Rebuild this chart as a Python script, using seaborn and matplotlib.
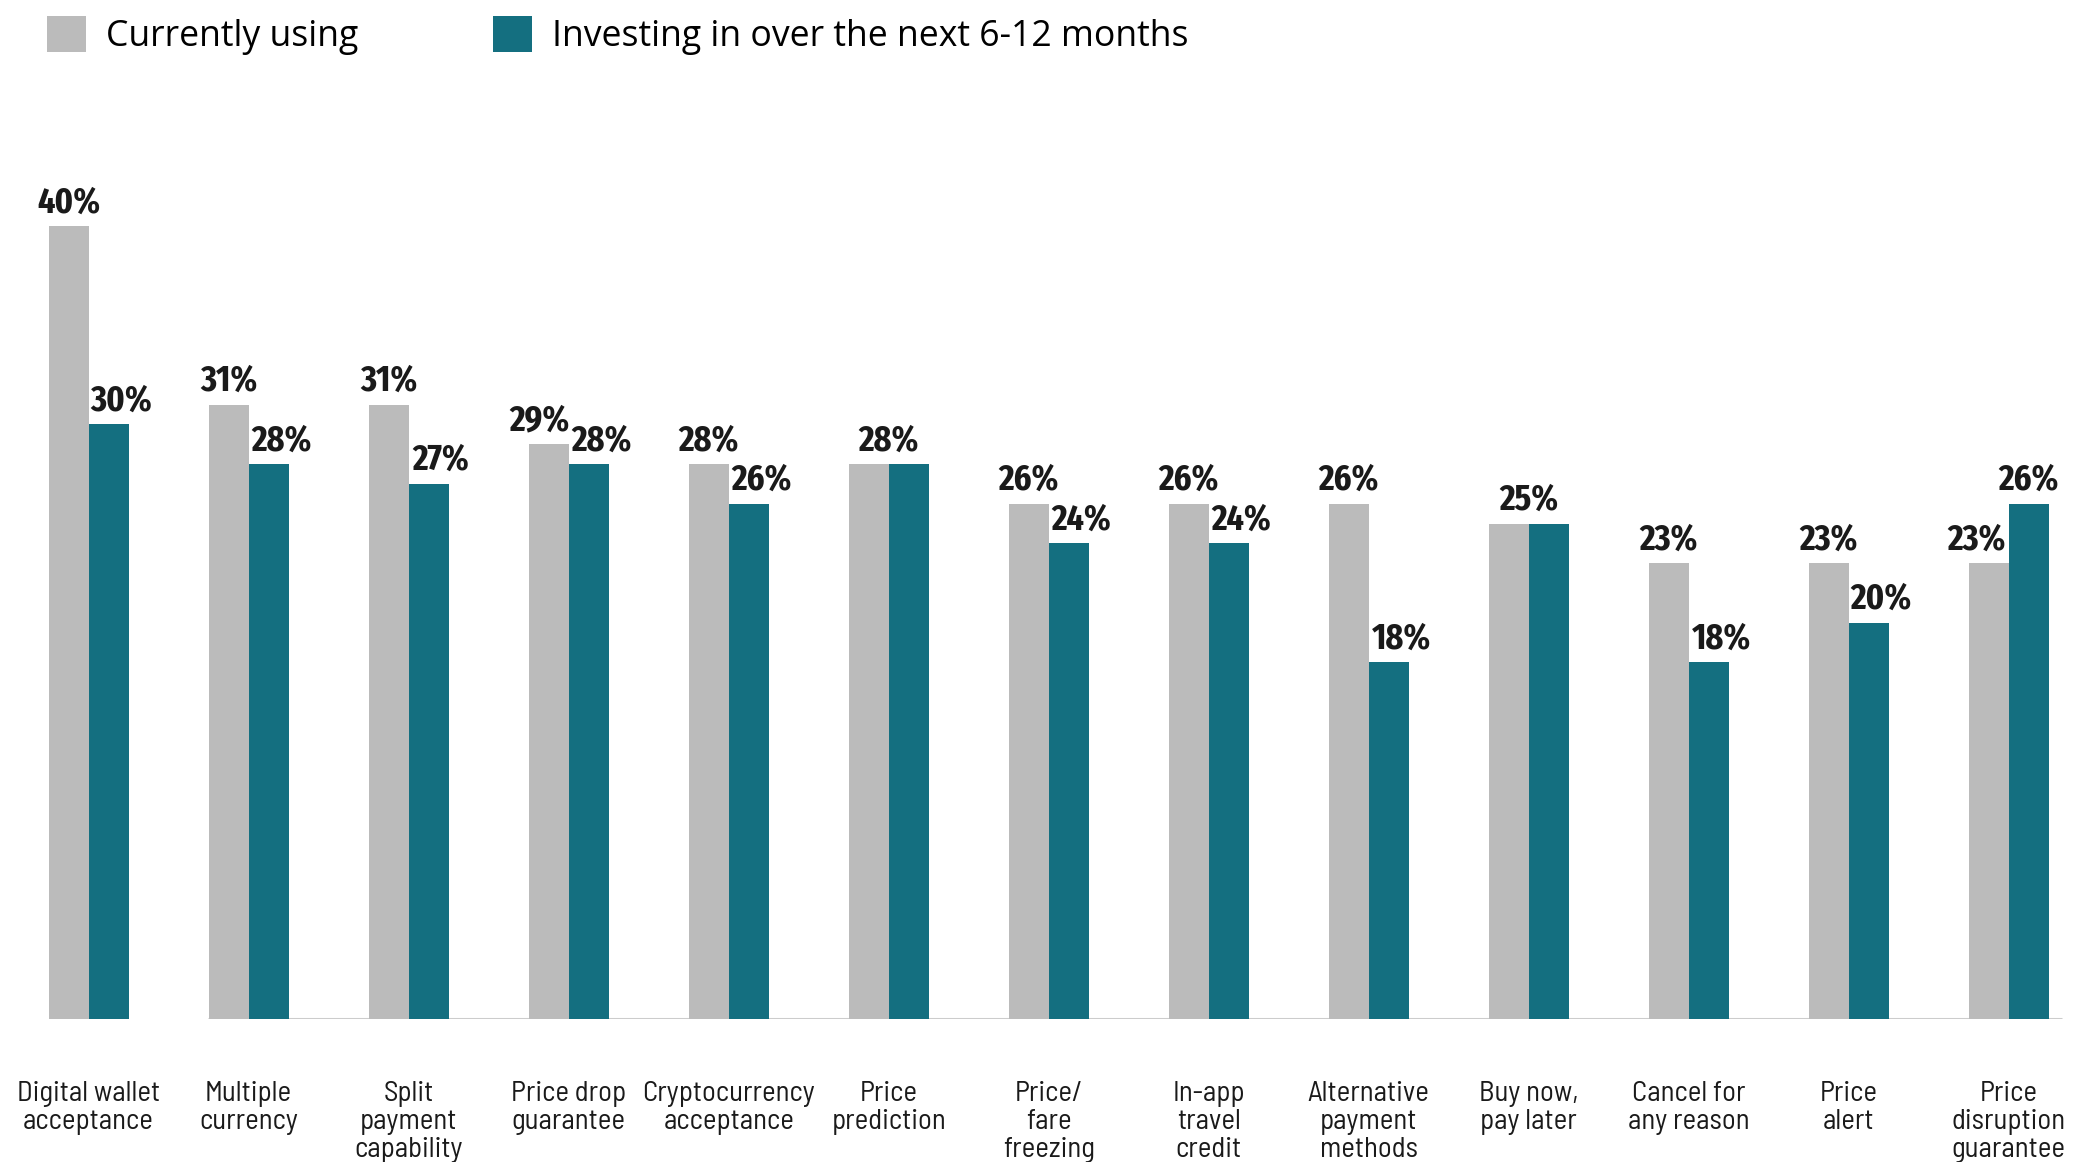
import matplotlib
matplotlib.use("Agg")
import matplotlib.pyplot as plt
import pandas as pd
import seaborn as sns
from matplotlib import font_manager
from matplotlib.font_manager import FontProperties
from matplotlib.patches import Patch

# ---- data -------------------------------------------------------------
features = [
    "Digital wallet\nacceptance",
    "Multiple\ncurrency",
    "Split\npayment\ncapability",
    "Price drop\nguarantee",
    "Cryptocurrency\nacceptance",
    "Price\nprediction",
    "Price/\nfare\nfreezing",
    "In-app\ntravel\ncredit",
    "Alternative\npayment\nmethods",
    "Buy now,\npay later",
    "Cancel for\nany reason",
    "Price\nalert",
    "Price\ndisruption\nguarantee",
]
currently_using = [40, 31, 31, 29, 28, 28, 26, 26, 26, 25, 23, 23, 23]
investing_next = [30, 28, 27, 28, 26, 28, 24, 24, 18, 25, 18, 20, 26]
series_names = ["Currently using", "Investing in over the next 6-12 months"]
series_colors = ["#BBBBBB", "#146F80"]

df = pd.DataFrame({
    "feature": features * 2,
    "series": [series_names[0]] * len(features) + [series_names[1]] * len(features),
    "value": currently_using + investing_next,
})

# ---- fonts ------------------------------------------------------------
sns.set_theme(style="white")
plt.rcParams["font.family"] = ["Open Sans", "DejaVu Sans"]

WEIGHTS = {"thin": 100, "extra light": 200, "light": 300, "normal": 400,
           "regular": 400, "book": 400, "medium": 500, "semibold": 600,
           "demibold": 600, "bold": 700, "extra bold": 800, "heavy": 800,
           "black": 900}


def _weight(f):
    return f.weight if isinstance(f.weight, int) else WEIGHTS.get(str(f.weight).lower(), 400)


def _key(f):
    return (f.name + " " + f.fname).lower().replace("-", "").replace("_", "").replace(" ", "")


def _width_class(f, key):
    if "extracondensed" in key or "ultracondensed" in key or f.stretch in ("extra-condensed", "ultra-condensed"):
        return "extra"
    if "semicondensed" in key or f.stretch == "semi-condensed":
        return "semi"
    if "condensed" in key or "narrow" in key or f.stretch == "condensed":
        return "cond"
    return None


def pick_face(weights, width_rank):
    """Narrow face of the given weight; width_rank maps width class to preference."""
    best, best_score, best_cls = None, 0, None
    for f in font_manager.fontManager.ttflist:
        key = _key(f)
        if "italic" in key or "oblique" in key or _weight(f) not in weights:
            continue
        cls = _width_class(f, key)
        score = width_rank.get(cls, 0)
        if not score:
            continue
        if "opensans" in key or "notosans" in key:
            score += 0.5
        if "cjk" in key or "mono" in key or "display" in key:
            score -= 1
        if score > best_score:
            best, best_score, best_cls = f, score, cls
    return best, best_cls


bold_face, _ = pick_face({700, 800}, {"extra": 4, "cond": 3, "semi": 2})
if bold_face is not None:
    value_font = FontProperties(fname=bold_face.fname, size=26.5)
else:
    value_font = FontProperties(family=["Roboto", "DejaVu Sans"], weight="bold", size=24)

reg_face, reg_cls = pick_face({400}, {"semi": 4, "cond": 3})
if reg_face is not None:
    width_factor = {"semi": 0.9, "cond": 0.82, "extra": 0.72}.get(reg_cls, 1.0)
    tick_font = FontProperties(fname=reg_face.fname, size=18.7 / width_factor)
else:
    tick_font = FontProperties(family=["Open Sans", "DejaVu Sans"], size=17)
# line pitch of the category labels, about 29 px
tick_linespacing = 31.7 / (0.985 * tick_font.get_size() * 100 / 72)

text_color = "#1A1A1A"

# ---- figure -----------------------------------------------------------
fig = plt.figure(figsize=(20.76, 11.62), dpi=100)
ax = fig.add_axes([0.0, 0.1227, 1.0, 0.768])

sns.barplot(
    data=df, x="feature", y="value", hue="series",
    palette=series_colors, hue_order=series_names,
    width=0.5, dodge=True, saturation=1, legend=False, ax=ax,
    linewidth=0, edgecolor="none", zorder=2,
)

ax.set_ylim(0, 45)
ax.set_xlim(-0.554, 12.42)
ax.set_yticks([])
ax.set_xlabel("")
ax.set_ylabel("")
for s in ax.spines.values():
    s.set_visible(False)
ax.grid(False)

# baseline under the bars
ax.hlines(0, 0.746, 12.33, color="#CCCCCC", lw=2.2, zorder=1)

# category labels
ax.tick_params(axis="x", length=0, pad=44, colors=text_color)
for lbl in ax.get_xticklabels():
    lbl.set_fontproperties(tick_font)
    lbl.set_linespacing(tick_linespacing)

# value labels
cur_bars, inv_bars = ax.containers[0], ax.containers[1]
label_kw = dict(textcoords="offset points", ha="center", va="baseline",
                color=text_color, fontproperties=value_font)
for bc, bt, c, t in zip(cur_bars, inv_bars, currently_using, investing_next):
    xc = bc.get_x() + bc.get_width() / 2
    xt = bt.get_x() + bt.get_width() / 2
    if c == t:
        ax.annotate(f"{c}%", xy=((xc + xt) / 2, c), xytext=(0, 10), **label_kw)
        continue
    if c > t:
        dc = -6.5 if c - t <= 1 else 0
        dt = 9
    else:
        dc = -9
        dt = 6.5 if t - c <= 1 else 0
    ax.annotate(f"{c}%", xy=(xc, c), xytext=(dc, 10), **label_kw)
    ax.annotate(f"{t}%", xy=(xt, t), xytext=(dt, 10), **label_kw)

# legend
handles = [Patch(facecolor=col, edgecolor="none") for col in series_colors]
fig.legend(
    handles=handles, labels=series_names,
    loc="upper left", bbox_to_anchor=(0.0228, 0.986),
    ncol=2, frameon=False, fontsize=25.7,
    handlelength=1.07, handleheight=1.17, handletextpad=0.56,
    columnspacing=3.8, borderpad=0, borderaxespad=0,
    labelcolor="#000000",
)

fig.savefig("out.png", dpi=100)
